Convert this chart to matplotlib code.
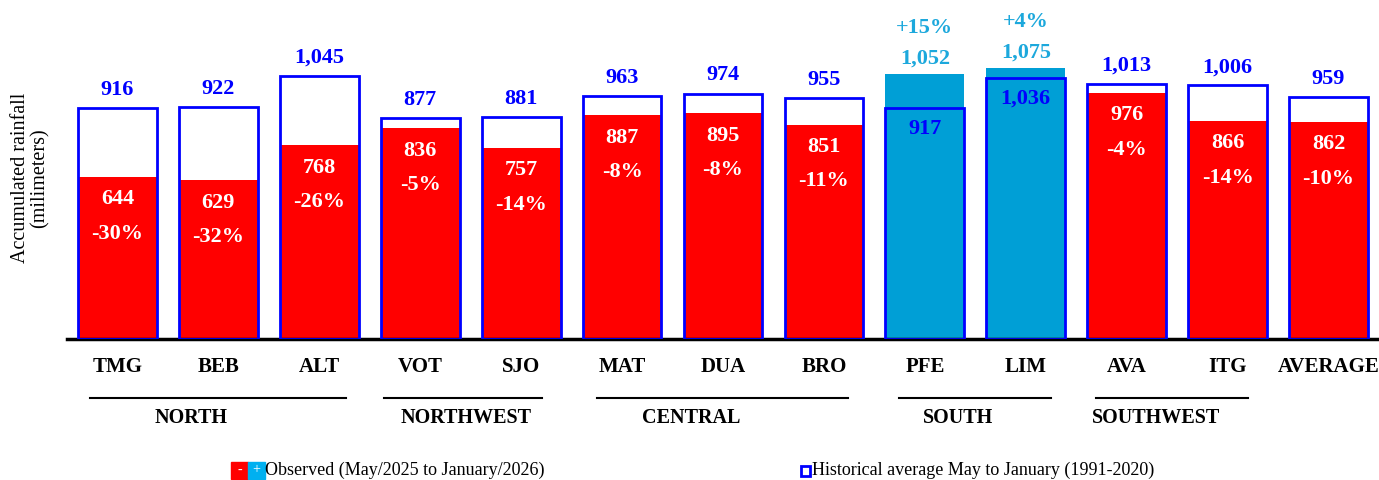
import matplotlib.pyplot as plt
import matplotlib.patches as patches

plt.rcParams["font.family"] = ["Liberation Serif", "DejaVu Serif"]

stations = ["TMG", "BEB", "ALT", "VOT", "SJO", "MAT", "DUA", "BRO", "PFE", "LIM", "AVA", "ITG", "AVERAGE"]
historical = [916, 922, 1045, 877, 881, 963, 974, 955, 917, 1036, 1013, 1006, 959]
observed = [644, 629, 768, 836, 757, 887, 895, 851, 1052, 1075, 976, 866, 862]
anomaly = [-30, -32, -26, -5, -14, -8, -8, -11, 15, 4, -4, -14, -10]

regions = ["NORTH", "NORTHWEST", "CENTRAL", "SOUTH", "SOUTHWEST"]
region_lines = [(-0.27, 2.26), (2.64, 4.21), (4.75, 7.24), (7.74, 9.25), (9.70, 11.20)]
region_label_x = [0.73, 3.45, 5.68, 8.33, 10.29]

RED = "#FF0000"
CYAN = "#009FD6"
BLUE = "#0000FF"

fig = plt.figure(figsize=(13.79, 4.8), dpi=100)
ax = fig.add_axes([67 / 1379, 1 - 339 / 480, 1 - 67 / 1379, 339 / 480])

x = list(range(len(stations)))
w = 0.78

# white fill of historical bars first, then observed, then outlines on top
ax.bar(x, historical, width=w, color="white", zorder=1)
colors = [CYAN if a > 0 else RED for a in anomaly]
ax.bar(x, observed, width=w, color=colors, zorder=2)
ax.bar(x, historical, width=w, facecolor="none", edgecolor=BLUE, linewidth=2.0, zorder=3)

ax.set_xlim(-0.5, 12.5)
ax.set_ylim(0, 1345)
for s in ["top", "right", "left"]:
    ax.spines[s].set_visible(False)
ax.spines["bottom"].set_linewidth(2.5)
ax.set_yticks([])
ax.set_xticks([])

fs = 16
for i in x:
    h, o, a = historical[i], observed[i], anomaly[i]
    if a > 0:
        ax.annotate(f"{o:,}", (i, o), xytext=(0, 11), textcoords="offset points",
                    ha="center", va="center", color="#1CA8DC", fontsize=fs, fontweight="bold")
        ax.annotate(f"+{a}%", (i, o), xytext=(0, 33), textcoords="offset points",
                    ha="center", va="center", color="#1CA8DC", fontsize=fs, fontweight="bold")
        ax.annotate(f"{h:,}", (i, h), xytext=(0, -15), textcoords="offset points",
                    ha="center", va="center", color=BLUE, fontsize=fs, fontweight="bold", zorder=5)
    else:
        ax.annotate(f"{h:,}", (i, h), xytext=(0, 13), textcoords="offset points",
                    ha="center", va="center", color=BLUE, fontsize=fs, fontweight="bold")
        ax.annotate(f"{o:,}", (i, o), xytext=(0, -16), textcoords="offset points",
                    ha="center", va="center", color="white", fontsize=fs, fontweight="bold", zorder=5)
        ax.annotate(f"{a}%", (i, o), xytext=(0, -41), textcoords="offset points",
                    ha="center", va="center", color="white", fontsize=fs, fontweight="bold", zorder=5)

# station labels and region groups below the axis
for i, s in enumerate(stations):
    ax.text(i, -28 / 0.252, s, ha="center", va="center", fontsize=15, fontweight="bold",
            clip_on=False)
for (x0, x1), name, lx in zip(region_lines, regions, region_label_x):
    ax.plot([x0, x1], [-59 / 0.252] * 2, color="black", lw=1.5, clip_on=False)
    ax.text(lx, -79 / 0.252, name, ha="center", va="center", fontsize=14.5, fontweight="bold",
            clip_on=False)

fig.text(30 / 1379, 1 - 178 / 480, "Accumulated rainfall\n(milimeters)", rotation=90,
         ha="center", va="center", fontsize=14.5, linespacing=1.05)

# legend
sq = 17
ly = 1 - 479 / 480
fig.patches.append(patches.Rectangle((231 / 1379, ly), sq / 1379, sq / 480,
                                     transform=fig.transFigure, color=RED))
fig.patches.append(patches.Rectangle((248 / 1379, ly), sq / 1379, sq / 480,
                                     transform=fig.transFigure, color="#00B0F0"))
fig.text(239.5 / 1379, ly + 9 / 480, "-", color="white", ha="center", va="center", fontsize=10)
fig.text(256.5 / 1379, ly + 9 / 480, "+", color="white", ha="center", va="center", fontsize=10)
fig.text(265 / 1379, ly + 9 / 480, "Observed (May/2025 to January/2026)", ha="left", va="center",
         fontsize=13)
fig.patches.append(patches.Rectangle((801 / 1379, ly + 3 / 480), 9 / 1379, 10 / 480,
                                     transform=fig.transFigure, facecolor="white",
                                     edgecolor=BLUE, linewidth=2))
fig.text(812 / 1379, ly + 9 / 480, "Historical average May to January (1991-2020)", ha="left",
         va="center", fontsize=13)

fig.savefig("out.png", dpi=100)
